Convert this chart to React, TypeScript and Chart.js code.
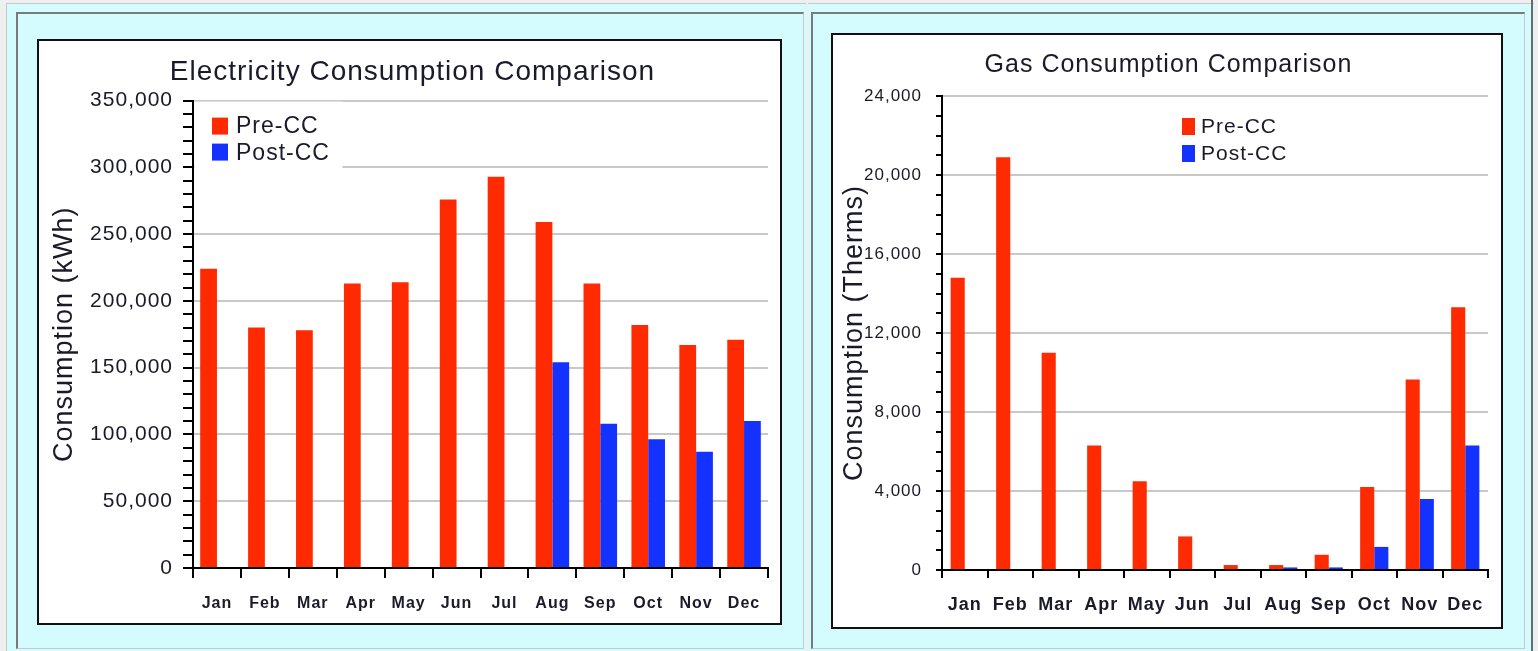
import React, { useEffect, useRef } from 'react';
import { Chart, registerables } from 'chart.js';

Chart.register(...registerables);

// ---------- data ----------
const months = ['Jan', 'Feb', 'Mar', 'Apr', 'May', 'Jun', 'Jul', 'Aug', 'Sep', 'Oct', 'Nov', 'Dec'];
const seriesNames = ['Pre-CC', 'Post-CC'];

const elecPre = [224000, 180000, 178000, 213000, 214000, 276000, 293000, 259000, 213000, 182000, 167000, 171000];
const elecPost = [null, null, null, null, null, null, null, 154000, 108000, 96500, 87000, 110000];

const gasPre = [14800, 20900, 11000, 6300, 4500, 1700, 250, 250, 770, 4200, 9650, 13300];
const gasPost = [null, null, null, null, null, null, null, 130, 130, 1170, 3600, 6300];

const elecAxis = { max: 350000, major: 50000, minor: 10000 };
const gasAxis = { max: 24000, major: 4000, minor: 1000 };

// ---------- styles ----------
const RED = '#ff2a00';
const BLUE = '#1432ff';
const CYAN = '#d4fcfe';
const TEXT = '#1a1a2a';
const FONT = "'Liberation Sans', Arial, sans-serif";

Chart.defaults.font.family = FONT;
Chart.defaults.color = TEXT;

type Spec = {
  title: string; titleSize: number; titlePad: { top: number; bottom: number };
  yTitle: string; yTitleSize: number; yTitlePad: number;
  pre: (number | null)[]; post: (number | null)[];
  axis: { max: number; major: number; minor: number };
  yWidth: number; xHeight: number; padLeft: number; padRight: number;
  yTickSize: number; yTickLen: number; yTickPad: number;
  xTickSize: number; xTickLen: number; xTickPad: number;
  catPct: number;
  legend: {
    cover: [number, number] | null;
    sq: [number, number]; sqW: number; sqH: number; sq2: number;
    tx: number; ty1: number; ty2: number; size: number;
  };
};

const elecSpec: Spec = {
  title: 'Electricity Consumption Comparison', titleSize: 28, titlePad: { top: 14, bottom: 12 },
  yTitle: 'Consumption (kWh)', yTitleSize: 27, yTitlePad: -9,
  pre: elecPre, post: elecPost, axis: elecAxis,
  yWidth: 136, xHeight: 55, padLeft: 18, padRight: 12,
  yTickSize: 21, yTickLen: 10, yTickPad: 10,
  xTickSize: 16, xTickLen: 10, xTickPad: 16,
  catPct: 0.7,
  legend: { cover: [148, 70], sq: [19, 17], sqW: 16, sqH: 17, sq2: 43, tx: 43, ty1: 26, ty2: 53, size: 23 },
};

const gasSpec: Spec = {
  title: 'Gas Consumption Comparison', titleSize: 25, titlePad: { top: 15, bottom: 16 },
  yTitle: 'Consumption (Therms)', yTitleSize: 27, yTitlePad: -11,
  pre: gasPre, post: gasPost, axis: gasAxis,
  yWidth: 93, xHeight: 57, padLeft: 16, padRight: 13,
  yTickSize: 17, yTickLen: 6, yTickPad: 14,
  xTickSize: 18, xTickLen: 8, xTickPad: 16,
  catPct: 0.62,
  legend: { cover: null, sq: [240, 22], sqW: 13, sqH: 17, sq2: 49, tx: 259, ty1: 31, ty2: 58, size: 21 },
};

function legendPlugin(spec: Spec) {
  const lg = spec.legend;
  return {
    id: 'boxLegend',
    beforeDatasetsDraw(chart: any) {
      const { ctx, chartArea: a } = chart;
      ctx.save();
      if (lg.cover) {
        ctx.fillStyle = '#ffffff';
        ctx.fillRect(a.left + 1.5, a.top + 1, lg.cover[0], lg.cover[1]);
      }
      ctx.fillStyle = RED;
      ctx.fillRect(a.left + lg.sq[0], a.top + lg.sq[1], lg.sqW, lg.sqH);
      ctx.fillStyle = BLUE;
      ctx.fillRect(a.left + lg.sq[0], a.top + lg.sq2, lg.sqW, lg.sqH);
      ctx.fillStyle = TEXT;
      ctx.font = `${lg.size}px ${FONT}`;
      (ctx as any).letterSpacing = '1px';
      ctx.textAlign = 'left';
      ctx.textBaseline = 'middle';
      ctx.fillText(seriesNames[0], a.left + lg.tx, a.top + lg.ty1);
      ctx.fillText(seriesNames[1], a.left + lg.tx, a.top + lg.ty2);
      ctx.restore();
    },
  };
}

const spacingPlugin = {
  id: 'spacing',
  beforeDraw(chart: any) {
    (chart.ctx as any).letterSpacing = '1px';
  },
};

function ChartCanvas({ spec, width, height }: { spec: Spec; width: number; height: number }) {
  const ref = useRef<HTMLCanvasElement | null>(null);
  useEffect(() => {
    if (!ref.current) return;
    const ax = spec.axis;
    const chart = new Chart(ref.current, {
      type: 'bar',
      data: {
        labels: months,
        datasets: [
          { label: seriesNames[0], data: spec.pre, backgroundColor: RED, borderWidth: 0, categoryPercentage: spec.catPct, barPercentage: 1 },
          { label: seriesNames[1], data: spec.post, backgroundColor: BLUE, borderWidth: 0, categoryPercentage: spec.catPct, barPercentage: 1 },
        ],
      },
      options: {
        responsive: false,
        animation: false,
        devicePixelRatio: 1,
        layout: { padding: { left: spec.padLeft, right: spec.padRight, top: 0, bottom: 0 } },
        plugins: {
          legend: { display: false },
          tooltip: { enabled: false },
          title: {
            display: true,
            text: spec.title,
            color: TEXT,
            font: { size: spec.titleSize, weight: 'normal', lineHeight: 1.2, family: FONT },
            padding: spec.titlePad,
          },
        },
        scales: {
          x: {
            afterFit: (s: any) => { s.height = spec.xHeight; },
            grid: {
              offset: true,
              color: (c: any) => (c.index === months.length ? '#c8c8c8' : 'rgba(0,0,0,0)'),
              tickColor: '#000',
              tickLength: spec.xTickLen,
              tickWidth: 2,
              lineWidth: 2,
            },
            border: { color: '#000', width: 2 },
            ticks: {
              color: TEXT,
              padding: spec.xTickPad,
              maxRotation: 0,
              autoSkip: false,
              font: { size: spec.xTickSize, weight: 'bold', family: FONT },
            },
          },
          y: {
            min: 0,
            max: ax.max,
            afterFit: (s: any) => { s.width = spec.yWidth; },
            grid: {
              color: (c: any) => (c.tick && c.tick.value % ax.major === 0 ? '#c8c8c8' : 'rgba(0,0,0,0)'),
              tickColor: '#000',
              tickLength: spec.yTickLen,
              tickWidth: 2,
              lineWidth: 2,
            },
            border: { color: '#000', width: 2 },
            ticks: {
              stepSize: ax.minor,
              autoSkip: false,
              color: TEXT,
              padding: spec.yTickPad,
              font: { size: spec.yTickSize, family: FONT },
              callback: (v: any) => (Number(v) % ax.major === 0 ? Number(v).toLocaleString('en-US') : ''),
            },
            title: {
              display: true,
              text: spec.yTitle,
              color: TEXT,
              font: { size: spec.yTitleSize, family: FONT, lineHeight: 1.2 },
              padding: { top: spec.yTitlePad, bottom: 0 },
            },
          },
        },
      },
      plugins: [spacingPlugin, legendPlugin(spec)],
    } as any);
    return () => chart.destroy();
  }, [spec]);
  return <canvas ref={ref} width={width} height={height} style={{ display: 'block', width, height }} />;
}

const abs = (o: React.CSSProperties): React.CSSProperties => ({ position: 'absolute', boxSizing: 'border-box', ...o });

export default function App() {
  return (
    <div style={abs({ left: 0, top: 0, width: 1538, height: 651, background: '#efefef', overflow: 'hidden' })}>
      {/* left panel */}
      <div style={abs({ left: 6, top: 3, width: 800, height: 648, background: CYAN, borderTop: '1px solid #c8c8c8', borderLeft: '1px solid #c8c8c8' })} />
      <div style={abs({ left: 16, top: 12, width: 788, height: 637, borderLeft: '2px solid #7a7a7a', borderTop: '2px solid #7a7a7a', borderRight: '1px solid #c8c8c8', borderBottom: '1px solid #c8c8c8' })} />
      <div style={abs({ left: 37, top: 39, width: 745, height: 586, border: '2px solid #111', background: '#fff' })}>
        <ChartCanvas spec={elecSpec} width={741} height={582} />
      </div>
      {/* right panel */}
      <div style={abs({ left: 808, top: 3, width: 726, height: 648, background: CYAN, borderTop: '1px solid #c8c8c8' })} />
      <div style={abs({ left: 811, top: 12, width: 714, height: 637, borderLeft: '2px solid #7a7a7a', borderTop: '2px solid #7a7a7a', borderRight: '1px solid #c8c8c8', borderBottom: '1px solid #c8c8c8' })} />
      <div style={abs({ left: 1531, top: 0, width: 2, height: 651, background: '#6a6a6a' })} />
      <div style={abs({ left: 831, top: 33, width: 672, height: 596, border: '2px solid #111', background: '#fff' })}>
        <ChartCanvas spec={gasSpec} width={668} height={592} />
      </div>
    </div>
  );
}
